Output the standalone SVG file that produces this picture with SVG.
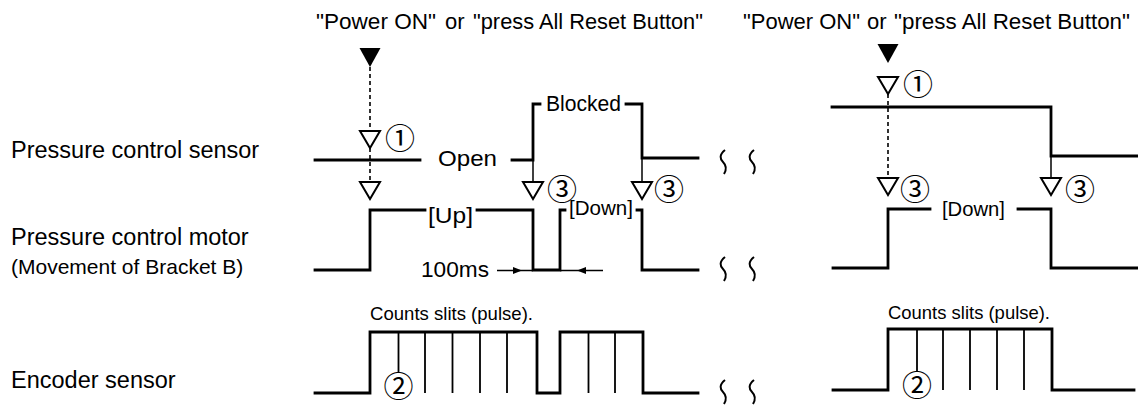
<svg xmlns="http://www.w3.org/2000/svg" width="1138" height="405" viewBox="0 0 1138 405">
<style>
  .t{font-family:"Liberation Sans",Arial,sans-serif;fill:#000}
  .lbl{font-size:23.5px}
  .sub{font-size:21px}
  .ttl{font-size:22px}
  .mid{font-size:22px}
  .cnt{font-size:18.5px}
  .num{font-family:"Noto Sans CJK JP","DejaVu Sans",sans-serif;font-size:30px;text-anchor:middle;fill:#000}
  .w{fill:none;stroke:#000;stroke-width:2.8;stroke-linejoin:miter;stroke-linecap:square}
  .slit{stroke:#000;stroke-width:1.8}
  .thin{stroke:#000;stroke-width:1.5;fill:none}
  .dash{stroke:#000;stroke-width:1.6;stroke-dasharray:4 3;fill:none}
  .tri{fill:#fff;stroke:#000;stroke-width:2}
  .ftri{fill:#000}
  .sq{fill:none;stroke:#000;stroke-width:2}
</style>
<defs>
  <polygon id="htri" class="tri" points="-10,0 10,0 0,17"/>
  <polygon id="ftri" class="ftri" points="-10.5,0 10.5,0 0,19"/>
  <path id="squig" class="sq" d="M2,0 C-4,5 -3,9 0,12 S4,19 1,24"/>
</defs>

<g id="row-labels">
  <text class="t lbl" x="11" y="158">Pressure control sensor</text>
  <text class="t lbl" x="11" y="245">Pressure control motor</text>
  <text class="t sub" x="11" y="274">(Movement of Bracket B)</text>
  <text class="t lbl" x="11" y="388">Encoder sensor</text>
</g>

<g id="titles">
  <text class="t ttl" x="316" y="29" textLength="120" lengthAdjust="spacingAndGlyphs">"Power ON"</text>
  <text class="t ttl" x="445" y="29">or</text>
  <text class="t ttl" x="473" y="29" textLength="230" lengthAdjust="spacingAndGlyphs">"press All Reset Button"</text>
  <text class="t ttl" x="743" y="29" textLength="117" lengthAdjust="spacingAndGlyphs">"Power ON"</text>
  <text class="t ttl" x="867" y="29">or</text>
  <text class="t ttl" x="894" y="29" textLength="236" lengthAdjust="spacingAndGlyphs">"press All Reset Button"</text>
</g>

<g id="sensor-1">
  <path class="w" d="M315,160 H420"/>
  <text class="t mid" x="438" y="166" textLength="59" lengthAdjust="spacingAndGlyphs">Open</text>
  <path class="w" d="M512,160 H533 V104 H540"/>
  <text class="t mid" x="546" y="111" textLength="75" lengthAdjust="spacingAndGlyphs">Blocked</text>
  <path class="w" d="M626,104 H642 V158 H698"/>
</g>

<g id="motor-1">
  <path class="w" d="M315,270 H370 V210 H425"/>
  <text class="t mid" x="428" y="223" textLength="45" lengthAdjust="spacingAndGlyphs">[Up]</text>
  <path class="w" d="M477,210 H533 V270 H560 V210 H565"/>
  <text class="t" style="font-size:20.5px" x="569" y="215" textLength="64" lengthAdjust="spacingAndGlyphs">[Down]</text>
  <path class="w" d="M637,210 H642 V270 H698"/>
  <text class="t mid" x="421" y="277" textLength="68" lengthAdjust="spacingAndGlyphs">100ms</text>
  <path class="thin" d="M497,270.5 H533"/>
  <polygon class="ftri" points="513,267 522,270.5 513,274"/>
  <path class="thin" d="M560,270.5 H603"/>
  <polygon class="ftri" points="586,267 577,270.5 586,274"/>
</g>

<g id="encoder-1">
  <text class="t cnt" x="370" y="320" textLength="163" lengthAdjust="spacingAndGlyphs">Counts slits (pulse).</text>
  <path class="w" d="M315,393 H370 V332 H537 V393 H560 V332 H643 V393 H698"/>
  <path class="slit" d="M398.5,332 V373 M425,332 V393 M452.5,332 V393 M480,332 V393 M507,332 V393 M588.5,332 V393 M615,332 V393"/>
  <text class="num" x="398.5" y="397">②</text>
</g>

<g id="markers-1">
  <use href="#ftri" x="370" y="48"/>
  <path class="dash" d="M370,67 V131"/>
  <use href="#htri" x="370" y="131"/>
  <text class="num" x="400" y="149">①</text>
  <path class="dash" d="M370,148 V182"/>
  <use href="#htri" x="370" y="182"/>
  <path class="thin" d="M533,160 V182"/>
  <use href="#htri" x="533" y="182"/>
  <text class="num" x="562" y="199.5">③</text>
  <path class="thin" d="M642,158 V182"/>
  <use href="#htri" x="642" y="182"/>
  <text class="num" x="669" y="199.5">③</text>
</g>

<g id="breaks">
  <use href="#squig" x="723" y="150"/>
  <use href="#squig" x="752" y="150"/>
  <use href="#squig" x="723" y="257"/>
  <use href="#squig" x="752" y="257"/>
  <use href="#squig" x="723" y="380"/>
  <use href="#squig" x="752" y="380"/>
</g>

<g id="sensor-2">
  <path class="w" d="M832,107 H1051 V156 H1138"/>
</g>

<g id="motor-2">
  <path class="w" d="M833,268 H888 V209 H930"/>
  <text class="t" style="font-size:20.5px" x="942" y="216" textLength="63" lengthAdjust="spacingAndGlyphs">[Down]</text>
  <path class="w" d="M1018,209 H1051 V268 H1138"/>
</g>

<g id="encoder-2">
  <text class="t cnt" x="888" y="319" textLength="162" lengthAdjust="spacingAndGlyphs">Counts slits (pulse).</text>
  <path class="w" d="M833,390 H888 V329 H1052 V390 H1134"/>
  <path class="slit" d="M917,329 V372 M943,329 V390 M970,329 V390 M997,329 V390 M1024,329 V390"/>
  <text class="num" x="917" y="396">②</text>
</g>

<g id="markers-2">
  <use href="#ftri" x="888" y="44"/>
  <use href="#htri" x="888" y="77"/>
  <text class="num" x="918" y="95">①</text>
  <path class="dash" d="M888,94 V178"/>
  <use href="#htri" x="888" y="178"/>
  <text class="num" x="915" y="199.5">③</text>
  <path class="thin" d="M1051,156 V178"/>
  <use href="#htri" x="1051" y="178"/>
  <text class="num" x="1080" y="199.5">③</text>
</g>
</svg>
